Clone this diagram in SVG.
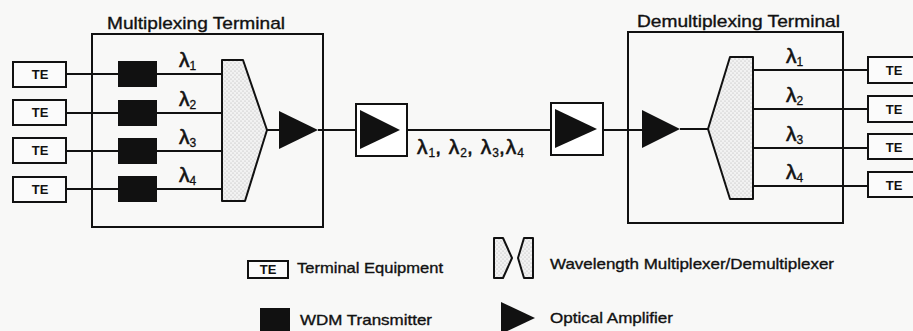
<svg xmlns="http://www.w3.org/2000/svg" width="913" height="331" viewBox="0 0 913 331">
<style>
  .bg { fill: #f8f8f7; }
  .box { fill: none; stroke: #111; stroke-width: 2; }
  .te { fill: #fbfbfb; stroke: #111; stroke-width: 2; }
  .tx { fill: #fff; stroke: #111; stroke-width: 2; }
  .blk { fill: #111; }
  .mux { fill: url(#dots); stroke: #111; stroke-width: 2; stroke-linejoin: round; }
  .line { stroke: #111; stroke-width: 2; fill: none; }
  text { font-family: "Liberation Sans", Arial, sans-serif; fill: #111; stroke: #111; stroke-width: 0.35; }
  .title { font-size: 17px; }
  .tetxt { font-size: 13px; font-weight: bold; text-anchor: middle; stroke-width: 0; }
  .leg { font-size: 15px; }
  .lam { font-size: 21px; stroke-width: 0.6; }
  .sub { font-size: 12px; stroke-width: 0.3; }
</style>
<defs>
  <pattern id="dots" width="4" height="4" patternUnits="userSpaceOnUse">
    <rect width="4" height="4" fill="#f2f2f2"/>
    <circle cx="1" cy="1" r="0.5" fill="#a0a0a0"/>
    <circle cx="3" cy="3" r="0.5" fill="#a0a0a0"/>
  </pattern>
</defs>
<rect class="bg" x="0" y="0" width="913" height="331"/>

<g id="connectors">
  <line class="line" x1="66" y1="74" x2="222" y2="74"/>
  <line class="line" x1="66" y1="113" x2="222" y2="113"/>
  <line class="line" x1="66" y1="151" x2="222" y2="151"/>
  <line class="line" x1="66" y1="189" x2="222" y2="189"/>
  <line class="line" x1="267" y1="130" x2="279" y2="130"/>
  <line class="line" x1="318" y1="130" x2="642" y2="130"/>
  <line class="line" x1="680" y1="129" x2="708" y2="129"/>
  <line class="line" x1="753" y1="70" x2="868" y2="70"/>
  <line class="line" x1="753" y1="109" x2="868" y2="109"/>
  <line class="line" x1="753" y1="148" x2="868" y2="148"/>
  <line class="line" x1="753" y1="186" x2="868" y2="186"/>
</g>

<g id="mux-terminal">
  <rect class="box" x="92" y="34" width="231" height="193"/>
  <text class="title" x="107" y="29" textLength="178" lengthAdjust="spacingAndGlyphs">Multiplexing Terminal</text>
</g>

<g id="demux-terminal">
  <rect class="box" x="628" y="32" width="215" height="191"/>
  <text class="title" x="637" y="27" textLength="203" lengthAdjust="spacingAndGlyphs">Demultiplexing Terminal</text>
</g>

<g id="te-in-1"><rect class="te" x="13" y="62" width="53" height="25"/><text class="tetxt" x="40" y="79">TE</text></g>
<g id="te-in-2"><rect class="te" x="13" y="100" width="53" height="25"/><text class="tetxt" x="40" y="117">TE</text></g>
<g id="te-in-3"><rect class="te" x="13" y="138" width="53" height="25"/><text class="tetxt" x="40" y="155">TE</text></g>
<g id="te-in-4"><rect class="te" x="13" y="177" width="53" height="25"/><text class="tetxt" x="40" y="194">TE</text></g>

<g id="tx-1"><rect class="blk" x="118" y="61" width="39" height="26"/></g>
<g id="tx-2"><rect class="blk" x="118" y="100" width="39" height="26"/></g>
<g id="tx-3"><rect class="blk" x="118" y="138" width="39" height="26"/></g>
<g id="tx-4"><rect class="blk" x="118" y="176" width="39" height="26"/></g>

<g id="mux-labels">
  <text class="lam" x="179" y="67">λ<tspan class="sub" dy="3">1</tspan></text>
  <text class="lam" x="179" y="106">λ<tspan class="sub" dy="3">2</tspan></text>
  <text class="lam" x="179" y="144">λ<tspan class="sub" dy="3">3</tspan></text>
  <text class="lam" x="179" y="182">λ<tspan class="sub" dy="3">4</tspan></text>
</g>

<g id="mux"><path class="mux" d="M222,60 H243 L267,130 L245,201 H222 Z"/></g>
<g id="amp-mux"><polygon class="blk" points="279,111 318,130 279,149"/></g>

<g id="amp-line-1">
  <rect class="tx" x="356" y="104" width="51" height="52"/>
  <polygon class="blk" points="360,110 400,130 360,149"/>
</g>
<g id="trunk-label">
  <text class="lam" x="417" y="154">λ<tspan class="sub" dy="3" dx="1">1</tspan><tspan dy="-3">, </tspan><tspan dx="2">λ</tspan><tspan class="sub" dy="3" dx="1">2</tspan><tspan dy="-3">, </tspan><tspan dx="2">λ</tspan><tspan class="sub" dy="3" dx="1">3</tspan><tspan dy="-3">,</tspan><tspan dx="1">λ</tspan><tspan class="sub" dy="3" dx="1">4</tspan></text>
</g>
<g id="amp-line-2">
  <rect class="tx" x="551" y="103" width="52" height="52"/>
  <polygon class="blk" points="555,109 597,129 555,148"/>
</g>

<g id="amp-demux"><polygon class="blk" points="642,110 680,129 642,148"/></g>
<g id="demux"><path class="mux" d="M730,57 H753 V199 H730 L708,129 Z"/></g>

<g id="demux-labels">
  <text class="lam" x="786" y="63">λ<tspan class="sub" dy="3">1</tspan></text>
  <text class="lam" x="786" y="102">λ<tspan class="sub" dy="3">2</tspan></text>
  <text class="lam" x="786" y="141">λ<tspan class="sub" dy="3">3</tspan></text>
  <text class="lam" x="786" y="179">λ<tspan class="sub" dy="3">4</tspan></text>
</g>

<g id="te-out-1"><rect class="te" x="868" y="57" width="52" height="26"/><text class="tetxt" x="894" y="75">TE</text></g>
<g id="te-out-2"><rect class="te" x="868" y="96" width="52" height="26"/><text class="tetxt" x="894" y="114">TE</text></g>
<g id="te-out-3"><rect class="te" x="868" y="134" width="52" height="25"/><text class="tetxt" x="894" y="152">TE</text></g>
<g id="te-out-4"><rect class="te" x="868" y="172" width="52" height="25"/><text class="tetxt" x="894" y="190">TE</text></g>

<g id="legend">
  <rect class="te" x="248" y="261" width="40" height="17"/>
  <text class="tetxt" x="268" y="274">TE</text>
  <text class="leg" x="297" y="273" textLength="146" lengthAdjust="spacingAndGlyphs">Terminal Equipment</text>

  <rect class="blk" x="260" y="308" width="30" height="25"/>
  <text class="leg" x="300" y="325" textLength="132" lengthAdjust="spacingAndGlyphs">WDM Transmitter</text>

  <path class="mux" d="M494,238 H503 L512,258 L503,278 H494 Z"/>
  <path class="mux" d="M533,238 H524 L518,258 L524,278 H533 Z"/>
  <text class="leg" x="550" y="269" textLength="284" lengthAdjust="spacingAndGlyphs">Wavelength Multiplexer/Demultiplexer</text>

  <polygon class="blk" points="501,302 535,318 501,334"/>
  <text class="leg" x="550" y="323" textLength="123" lengthAdjust="spacingAndGlyphs">Optical Amplifier</text>
</g>
</svg>
